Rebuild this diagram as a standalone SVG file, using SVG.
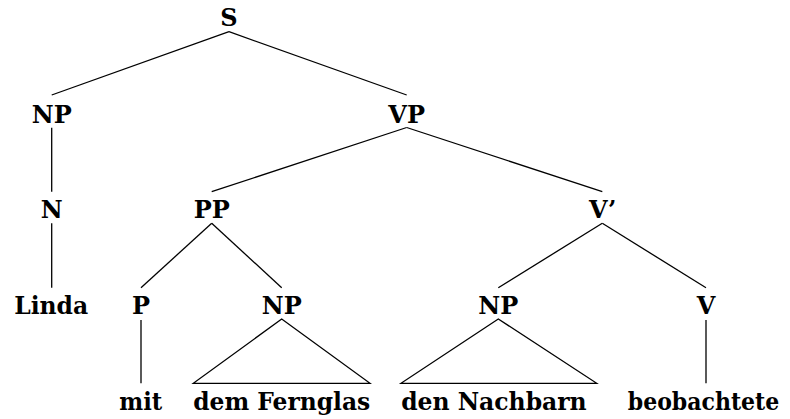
<svg xmlns="http://www.w3.org/2000/svg" width="790" height="419" viewBox="0 0 790 419">
<style>
text{font-family:"DejaVu Serif","Liberation Serif",serif;font-weight:bold;font-size:24px;fill:#000;text-anchor:middle}
.e{stroke:#000;stroke-width:1.3;fill:none}
</style>
<rect width="790" height="419" fill="#fff"/>
<g id="connectors">
<line class="e" x1="229" y1="31.7" x2="51.7" y2="95"/>
<line class="e" x1="229" y1="31.7" x2="406.7" y2="95"/>
<line class="e" x1="51.7" y1="127.7" x2="51.7" y2="191.7"/>
<line class="e" x1="406.7" y1="127.5" x2="211.7" y2="191.7"/>
<line class="e" x1="406.7" y1="127.5" x2="602.3" y2="191.7"/>
<line class="e" x1="51.7" y1="223.3" x2="51.7" y2="287.7"/>
<line class="e" x1="211.7" y1="223.3" x2="141" y2="287.7"/>
<line class="e" x1="211.7" y1="223.3" x2="281.7" y2="287.7"/>
<line class="e" x1="602.3" y1="223.3" x2="498.3" y2="287.7"/>
<line class="e" x1="602.3" y1="223.3" x2="706" y2="287.7"/>
<line class="e" x1="141" y1="320" x2="141" y2="383.3"/>
<line class="e" x1="706" y1="320" x2="706" y2="383.3"/>
<polygon class="e" points="281.7,319 193.3,383.3 370,383.3"/>
<polygon class="e" points="498.3,319 401,383.3 596.7,383.3"/>
</g>
<g id="S"><text x="229" y="26">S</text></g>
<g id="NP1"><text x="51.7" y="122.5">NP</text></g>
<g id="VP"><text x="406.7" y="122.5">VP</text></g>
<g id="N"><text x="51.7" y="218">N</text></g>
<g id="PP"><text x="211.7" y="218">PP</text></g>
<g id="Vbar"><text x="602.7" y="218">V’</text></g>
<g id="Linda"><text x="51.2" y="313.5" textLength="74" lengthAdjust="spacingAndGlyphs">Linda</text></g>
<g id="P"><text x="141" y="313.5">P</text></g>
<g id="NP2"><text x="281.7" y="313.5">NP</text></g>
<g id="NP3"><text x="498.3" y="313.5">NP</text></g>
<g id="V"><text x="706" y="313.5">V</text></g>
<g id="mit"><text x="140.7" y="409.8" textLength="43" lengthAdjust="spacingAndGlyphs">mit</text></g>
<g id="demFernglas"><text x="281.7" y="409.8" textLength="177" lengthAdjust="spacingAndGlyphs">dem Fernglas</text></g>
<g id="denNachbarn"><text x="493.9" y="409.8" textLength="185.5" lengthAdjust="spacingAndGlyphs">den Nachbarn</text></g>
<g id="beobachtete"><text x="703.5" y="409.8" textLength="151.5" lengthAdjust="spacingAndGlyphs">beobachtete</text></g>
</svg>
